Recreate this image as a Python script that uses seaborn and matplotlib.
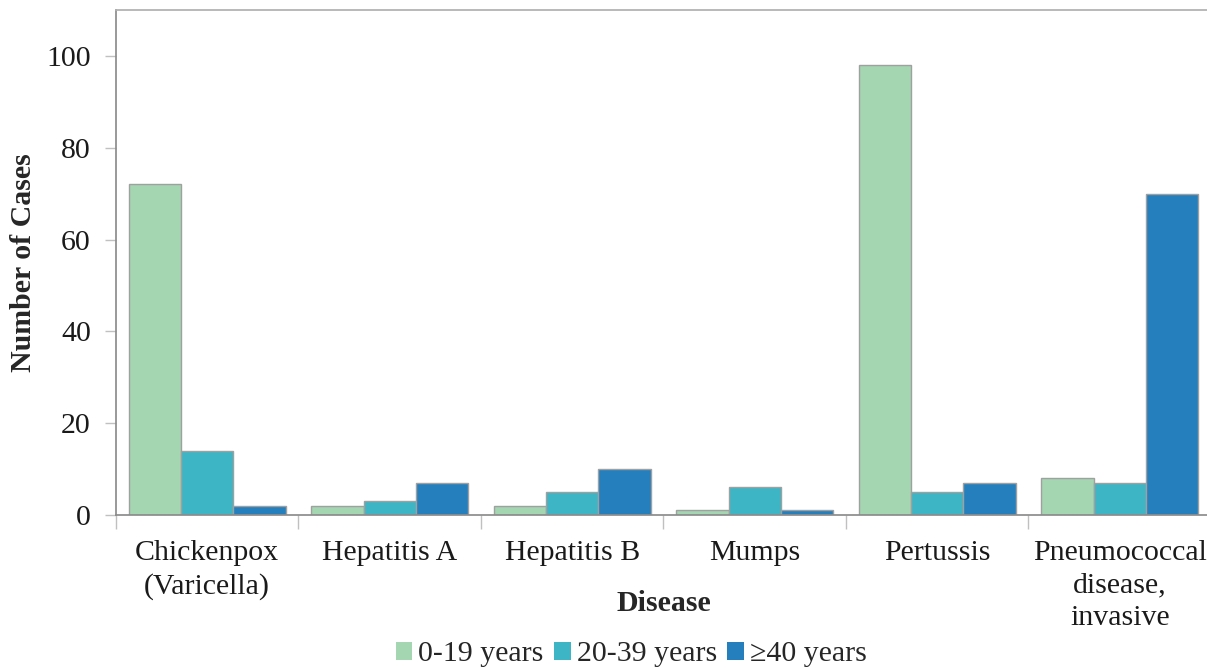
import numpy as np
import pandas as pd
import matplotlib
matplotlib.use("Agg")
import matplotlib.pyplot as plt
import seaborn as sns

# ── data ──────────────────────────────────────────────────────────────────────
diseases = ["Chickenpox\n(Varicella)", "Hepatitis A", "Hepatitis B", "Mumps",
            "Pertussis", "Pneumococcal\ndisease,\ninvasive"]
age_groups = ["0-19 years", "20-39 years", "\u226540 years"]
cases_0_19 = [72, 2, 2, 1, 98, 8]
cases_20_39 = [14, 3, 5, 6, 5, 7]
cases_40_plus = [2, 7, 10, 1, 7, 70]
colors = ["#A3D6B1", "#3DB5C4", "#257FBC"]

df = pd.DataFrame({
    "Disease": diseases * 3,
    "Age": np.repeat(age_groups, len(diseases)),
    "Cases": cases_0_19 + cases_20_39 + cases_40_plus,
})

# ── style ─────────────────────────────────────────────────────────────────────
sns.set_theme(style="white")
plt.rcParams["font.family"] = ["Liberation Serif", "DejaVu Serif"]
plt.rcParams["axes.edgecolor"] = "#8c8c8c"
FS = 21.5

fig = plt.figure(figsize=(12.07, 6.69), dpi=100)
ax = fig.add_axes([0.0961, 0.2302, 0.9072, 0.7548])

sns.barplot(data=df, x="Disease", y="Cases", hue="Age", order=diseases,
            hue_order=age_groups, palette=colors, width=0.86,
            edgecolor="#a0a0a0", linewidth=1, saturation=1, ax=ax, legend=False)

ax.set_ylim(0, 110)
ax.set_xlim(-0.5, 5.5)
ax.set_yticks([0, 20, 40, 60, 80, 100])
ax.tick_params(axis="y", labelsize=FS, length=8, width=1, color="#c0c0c0",
               left=True, pad=10, labelcolor="#1a1a1a")
ax.tick_params(axis="x", which="major", length=0, labelsize=FS, pad=18,
               labelcolor="#1a1a1a")
ax.set_xticks(np.arange(-0.5, 6, 1), minor=True)
ax.tick_params(axis="x", which="minor", length=10, width=1, color="#c0c0c0",
               bottom=True)
for lbl in ax.get_xticklabels():
    lbl.set_linespacing(1.32)

ax.spines["right"].set_visible(False)
ax.spines["top"].set_color("#b0b0b0")
ax.spines["left"].set_color("#8c8c8c")
ax.spines["bottom"].set_color("#8c8c8c")

ax.set_ylabel("Number of Cases", fontsize=FS, fontweight="bold")
ax.yaxis.set_label_coords(-0.072, 0.5)
ax.set_xlabel("Disease", fontsize=FS, fontweight="bold")
ax.xaxis.set_label_coords(0.5, -0.1485)

handles = [plt.Rectangle((0, 0), 1, 1, facecolor=c, edgecolor="none") for c in colors]
fig.legend(handles, age_groups, loc="center", bbox_to_anchor=(0.523, 0.022),
           ncol=3, frameon=False, fontsize=FS, handlelength=0.55, handleheight=0.55,
           handletextpad=0.2, columnspacing=0.35)

plt.savefig("out.png", dpi=100)
plt.close()
